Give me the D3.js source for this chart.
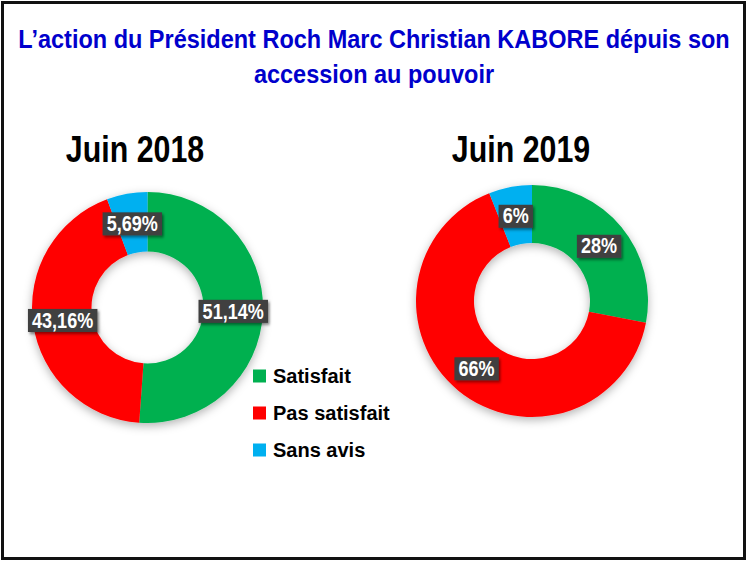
<!DOCTYPE html>
<html lang="fr">
<head>
<meta charset="utf-8">
<title>Action du Président</title>
<style>
  body { margin: 0; background: #fff; }
  .bold { font-family: "Liberation Sans", Arial, sans-serif; font-weight: bold; }
  .legend text { font-family: "Liberation Sans", Arial, sans-serif; font-weight: bold; font-size: 20px; }
</style>
</head>
<body>
<div id="chart"></div>
<script src="https://cdn.jsdelivr.net/npm/d3@7"></script>
<script>
  var width = 747,
      height = 562;

  // data
  var categories = ["Satisfait", "Pas satisfait", "Sans avis"];
  var colors = ["#00B050", "#FF0000", "#00B0F0"];
  var periods = ["Juin 2018", "Juin 2019"];
  var values2018 = [51.14, 43.16, 5.69];
  var labels2018 = ["51,14%", "43,16%", "5,69%"];
  var values2019 = [28, 66, 6];
  var labels2019 = ["28%", "66%", "6%"];

  // no Arial Narrow here, squeeze the regular bold instead
  var narrow = 0.82;

  var svg = d3.select("#chart")
      .append("svg")
      .attr("width", width)
      .attr("height", height);

  var defs = svg.append("defs");
  defs.append("filter").attr("id", "shadow")
      .attr("x", "-20%").attr("y", "-20%").attr("width", "140%").attr("height", "140%")
    .append("feDropShadow")
      .attr("dx", 0).attr("dy", 3).attr("stdDeviation", 5)
      .attr("flood-color", "#000").attr("flood-opacity", 0.3);
  defs.append("filter").attr("id", "lblshadow")
      .attr("x", "-20%").attr("y", "-30%").attr("width", "150%").attr("height", "170%")
    .append("feDropShadow")
      .attr("dx", 2).attr("dy", 2).attr("stdDeviation", 1.5)
      .attr("flood-color", "#000").attr("flood-opacity", 0.45);

  // frame
  svg.append("rect")
      .attr("x", 2.5).attr("y", 2.5)
      .attr("width", width - 5).attr("height", height - 6)
      .attr("fill", "none")
      .attr("stroke", "#111")
      .attr("stroke-width", 3);

  // title
  var title = svg.append("g")
      .attr("transform", "translate(374,0) scale(0.94,1)")
    .append("text")
      .attr("class", "bold")
      .attr("text-anchor", "middle")
      .attr("fill", "#0000CC")
      .style("font-size", "25px");
  title.append("tspan").attr("x", 0).attr("y", 48)
      .text("L\u2019action du Président Roch Marc Christian KABORE dépuis son");
  title.append("tspan").attr("x", 0).attr("y", 83)
      .text("accession au pouvoir");

  var pie = d3.pie().sort(null).value(function(d) { return d; });

  function donut(values, labels, cx, cy, r, r0, name, nameX) {
    var g = svg.append("g").attr("transform", "translate(" + cx + "," + cy + ")");
    var arc = d3.arc().innerRadius(r0).outerRadius(r);
    var labelArc = d3.arc().innerRadius((r + r0) / 2).outerRadius((r + r0) / 2);
    var arcs = pie(values);

    g.append("g").attr("filter", "url(#shadow)")
      .selectAll("path")
      .data(arcs)
      .enter().append("path")
        .attr("d", arc)
        .attr("fill", function(d, i) { return colors[i]; });

    var lbl = g.selectAll(".lbl")
      .data(arcs)
      .enter().append("g")
        .attr("class", "lbl")
        .attr("transform", function(d) {
          return "translate(" + labelArc.centroid(d) + ") scale(" + narrow + ",1)";
        });

    lbl.append("text")
        .attr("class", "bold")
        .attr("text-anchor", "middle")
        .attr("dy", "0.36em")
        .attr("fill", "#fff")
        .style("font-size", "22px")
        .text(function(d, i) { return labels[i]; })
        .each(function() {
          var b = this.getBBox();
          d3.select(this.parentNode).insert("rect", "text")
            .attr("x", b.x - 5).attr("y", b.y + 1)
            .attr("width", b.width + 10).attr("height", b.height - 1)
            .attr("fill", "#404040")
            .attr("filter", "url(#lblshadow)");
        });

    svg.append("g")
        .attr("transform", "translate(" + nameX + ",162) scale(" + narrow + ",1)")
      .append("text")
        .attr("class", "bold")
        .attr("text-anchor", "middle")
        .attr("fill", "#000")
        .style("font-size", "37px")
        .text(name);
  }

  donut(values2018, labels2018, 147.5, 307.5, 115.5, 56, periods[0], 135);
  donut(values2019, labels2019, 532, 301, 116, 58, periods[1], 521);

  // legend
  var legend = svg.append("g").attr("class", "legend")
      .attr("transform", "translate(253,376)");
  var item = legend.selectAll("g")
      .data(categories)
      .enter().append("g")
        .attr("transform", function(d, i) { return "translate(0," + (i * 37) + ")"; });
  item.append("rect")
      .attr("x", 0).attr("y", -6.5)
      .attr("width", 13).attr("height", 13)
      .attr("fill", function(d, i) { return colors[i]; });
  item.append("text")
      .attr("x", 20).attr("dy", "0.36em")
      .attr("fill", "#000")
      .text(function(d) { return d; });
</script>
</body>
</html>
